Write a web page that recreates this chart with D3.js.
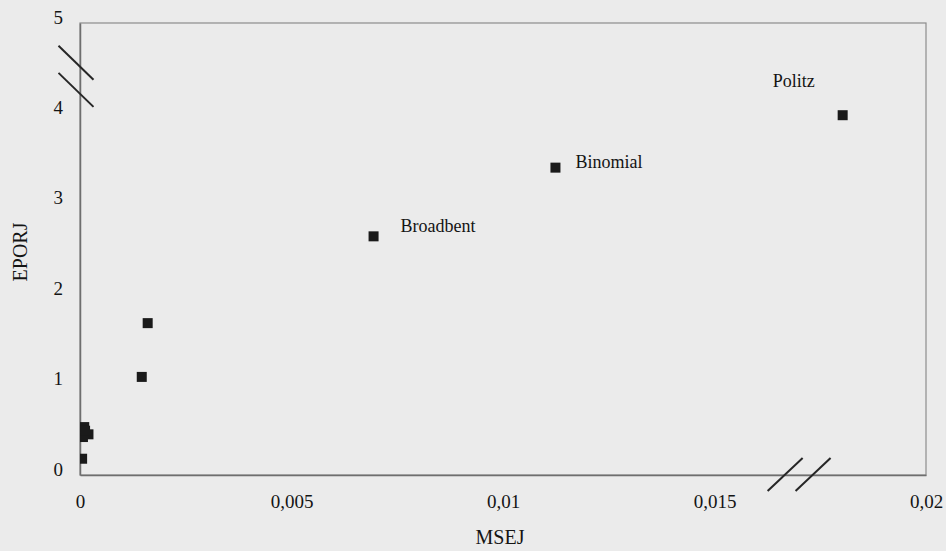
<!DOCTYPE html>
<html>
<head>
<meta charset="utf-8">
<script src="https://cdn.jsdelivr.net/npm/d3@7/dist/d3.min.js"></script>
<style>
  html, body { margin: 0; padding: 0; background: #ebebeb; }
  svg { display: block; }
  text { font-family: "Liberation Serif", "Times New Roman", serif; fill: #141414; }
</style>
</head>
<body>
<svg id="chart" width="946" height="551"></svg>
<script>
// Methods compared on the two error measures
const methods = ["", "", "", "", "", "", "", "Broadbent", "Binomial", "Politz"];
const msej    = [0.00005, 0.0001, 0.0002, 0.00007, 0.00012, 0.00146, 0.0016, 0.00694, 0.01124, 0.01803];
const eporj   = [0.18, 0.53, 0.45, 0.42, 0.49, 1.085, 1.68, 2.64, 3.40, 3.98];

const xTicks = [0, 0.005, 0.01, 0.015, 0.02];
const xTickLabels = ["0", "0,005", "0,01", "0,015", "0,02"];
const yTicks = [0, 1, 2, 3, 4, 5];

// Axis breaks (data units): pairs of slashes on each axis
const yBreaks = [4.56, 4.26];
const xBreaks = [0.01667, 0.01733];

// Where each method name sits relative to its marker
const labelOffset = {
  "Broadbent": [27, -4],
  "Binomial": [20, 0],
  "Politz": [-70, -28]
};

const svg = d3.select("#chart");
const margin = { left: 80, top: 23, right: 946 - 926, bottom: 551 - 475 };
const W = 946, H = 551;

const x = d3.scaleLinear().domain([0, 0.02]).range([margin.left, W - margin.right]);
const y = d3.scaleLinear().domain([0, 5]).range([H - margin.bottom, margin.top]);

svg.append("defs").append("clipPath").attr("id", "plot-clip")
  .append("rect")
  .attr("x", x(0)).attr("y", y(5))
  .attr("width", x(0.02) - x(0)).attr("height", y(0) - y(5));

// Plot frame: light top/right edges, darker axes
svg.append("rect")
  .attr("x", x(0)).attr("y", y(5))
  .attr("width", x(0.02) - x(0)).attr("height", y(0) - y(5))
  .attr("fill", "none").attr("stroke", "#8c8c8c").attr("stroke-width", 1.2);

const tickFont = g => g.selectAll("text")
  .style("font-size", "19px").attr("fill", "#141414")
  .style("font-family", "'Liberation Serif', serif");

const xAxis = d3.axisBottom(x).tickValues(xTicks)
  .tickFormat((d, i) => xTickLabels[i]).tickSize(0).tickPadding(20);
const gx = svg.append("g").attr("transform", `translate(0,${y(0)})`).call(xAxis);
gx.select(".domain").attr("stroke", "#6e6e6e").attr("stroke-width", 1.5);
gx.call(tickFont);

const yAxis = d3.axisLeft(y).tickValues(yTicks).tickFormat(d3.format("d"))
  .tickSize(0).tickPadding(17);
const gy = svg.append("g").attr("transform", `translate(${x(0)},0)`).call(yAxis);
gy.select(".domain").attr("stroke", "#6e6e6e").attr("stroke-width", 1.5);
gy.call(tickFont);
gy.selectAll("text").attr("dy", "0em");

// Axis titles
svg.append("text")
  .attr("x", 500).attr("y", 544)
  .attr("text-anchor", "middle").style("font-size", "20px")
  .text("MSEJ");
svg.append("text")
  .attr("transform", `translate(27,${(y(0) + y(5)) / 2 + 3}) rotate(-90)`)
  .attr("text-anchor", "middle").style("font-size", "20px")
  .text("EPORJ");

// Break marks
const slash = 17.5;
svg.append("g").selectAll("line").data(yBreaks).join("line")
  .attr("x1", x(0) - slash - 4).attr("y1", d => y(d) - 17)
  .attr("x2", x(0) + slash - 4).attr("y2", d => y(d) + 17)
  .attr("stroke", "#262626").attr("stroke-width", 2);
svg.append("g").selectAll("line").data(xBreaks).join("line")
  .attr("x1", d => x(d) - slash).attr("y1", y(0) + 16)
  .attr("x2", d => x(d) + slash).attr("y2", y(0) - 17)
  .attr("stroke", "#262626").attr("stroke-width", 2);

// Markers
const pts = methods.map((m, i) => ({ name: m, mx: msej[i], ey: eporj[i] }));
const size = 10;
svg.append("g").attr("clip-path", "url(#plot-clip)")
  .selectAll("rect").data(pts).join("rect")
  .attr("x", d => x(d.mx) - size / 2).attr("y", d => y(d.ey) - size / 2)
  .attr("width", size).attr("height", size)
  .attr("fill", "#1a1a1a");

// Method names
svg.append("g").selectAll("text").data(pts.filter(d => d.name)).join("text")
  .attr("x", d => x(d.mx) + labelOffset[d.name][0])
  .attr("y", d => y(d.ey) + labelOffset[d.name][1])
  .style("font-size", "18px")
  .text(d => d.name);
</script>
</body>
</html>
